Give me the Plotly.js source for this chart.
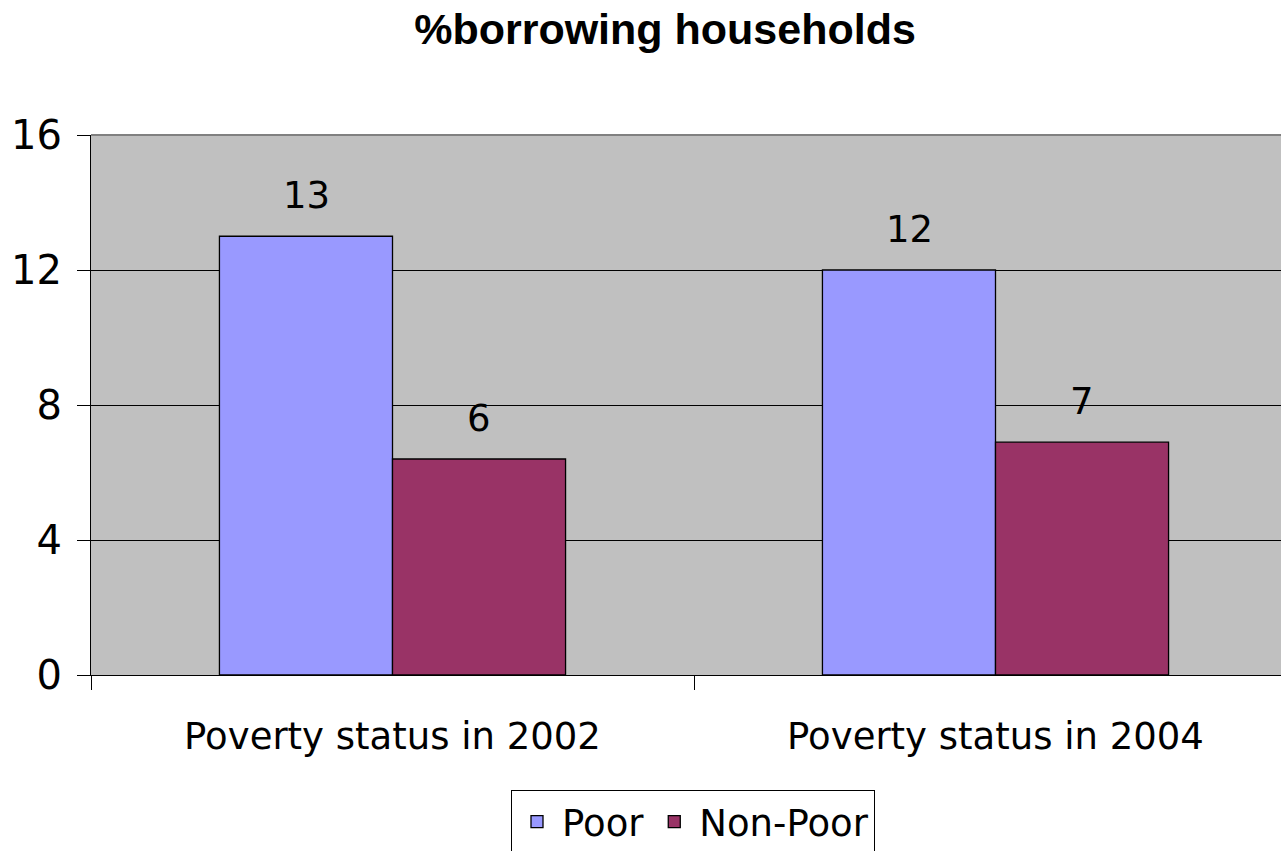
<!DOCTYPE html>
<html>
<head>
<meta charset="utf-8">
<script src="https://cdn.plot.ly/plotly-3.0.1.min.js"></script>
<style>
html,body{margin:0;padding:0;overflow:hidden;background:#fff;}
#chart{width:1300px;height:870px;}
</style>
</head>
<body>
<div id="chart"></div>
<script>
const categories = ["Poverty status in 2002", "Poverty status in 2004"];
const poorValues = [13.0, 12.0];
const nonPoorValues = [6.4, 6.9];
const seriesNames = ["Poor", "Non-Poor"];
const yTicks = [0, 4, 8, 12, 16];

const FONT = '"Liberation Sans", Arial, sans-serif';
const WIDE = '"DejaVu Sans", "Liberation Sans", Arial, sans-serif';

const traces = [
  {
    type: 'bar', name: seriesNames[0], x: categories, y: poorValues,
    marker: {color: '#9999FF', line: {color: '#000000', width: 1.3}},
    hoverinfo: 'none'
  },
  {
    type: 'bar', name: seriesNames[1], x: categories, y: nonPoorValues,
    marker: {color: '#993366', line: {color: '#000000', width: 1.3}},
    hoverinfo: 'none'
  }
];

const halfBar = 86.5;
const annotations = [];
[poorValues, nonPoorValues].forEach((vals, si) => {
  vals.forEach((v, i) => {
    annotations.push({
      x: categories[i], y: v, xref: 'x', yref: 'y',
      text: String(Math.round(v)), showarrow: false,
      xanchor: 'center', yanchor: 'bottom',
      xshift: si === 0 ? -halfBar : halfBar, yshift: 17,
      font: {family: WIDE, size: 37, color: '#000'}
    });
  });
});

const layout = {
  width: 1300, height: 870,
  margin: {l: 91, r: 3, t: 135, b: 195, autoexpand: false},
  paper_bgcolor: '#ffffff',
  plot_bgcolor: '#C0C0C0',
  font: {family: FONT, color: '#000'},
  title: {
    text: '<b>%borrowing households</b>',
    font: {family: FONT, size: 43, color: '#000'},
    x: 665/1300, xref: 'container', xanchor: 'center',
    y: 1 - 29/870, yref: 'container', yanchor: 'middle'
  },
  barmode: 'group',
  bargap: 0.426,
  bargroupgap: 0,
  xaxis: {
    type: 'category',
    tickson: 'boundaries',
    ticks: 'outside', ticklen: 14, tickcolor: '#000', tickwidth: 1,
    showline: true, linecolor: '#000', linewidth: 1,
    showgrid: false,
    tickangle: 0,
    automargin: false,
    tickfont: {family: WIDE, size: 37, color: '#000'},
    ticklabelstandoff: 29,
    fixedrange: true
  },
  yaxis: {
    range: [0, 16],
    tickvals: yTicks,
    ticktext: yTicks.map(String),
    ticks: 'outside', ticklen: 13, tickcolor: '#000', tickwidth: 1,
    showline: true, linecolor: '#000', linewidth: 1,
    showgrid: true, gridcolor: '#000', gridwidth: 1,
    zeroline: false,
    automargin: false,
    tickfont: {family: WIDE, size: 40, color: '#000'},
    ticklabelstandoff: 7,
    fixedrange: true
  },
  showlegend: true,
  legend: {
    orientation: 'h',
    x: (693 - 91)/1206, xref: 'paper', xanchor: 'center',
    y: -(790 - 675)/540, yref: 'paper', yanchor: 'top',
    bordercolor: '#000', borderwidth: 1,
    bgcolor: '#ffffff',
    font: {family: WIDE, size: 37, color: '#000'},
    itemwidth: 40,
    tracegroupgap: 0
  },
  shapes: [
    {type: 'line', xref: 'paper', yref: 'paper', x0: 0, x1: 1, y0: 1, y1: 1,
     line: {color: '#808080', width: 2}, layer: 'above'}
  ],
  annotations: annotations
};

Plotly.newPlot('chart', traces, layout, {displayModeBar: false, staticPlot: true});
</script>
</body>
</html>
